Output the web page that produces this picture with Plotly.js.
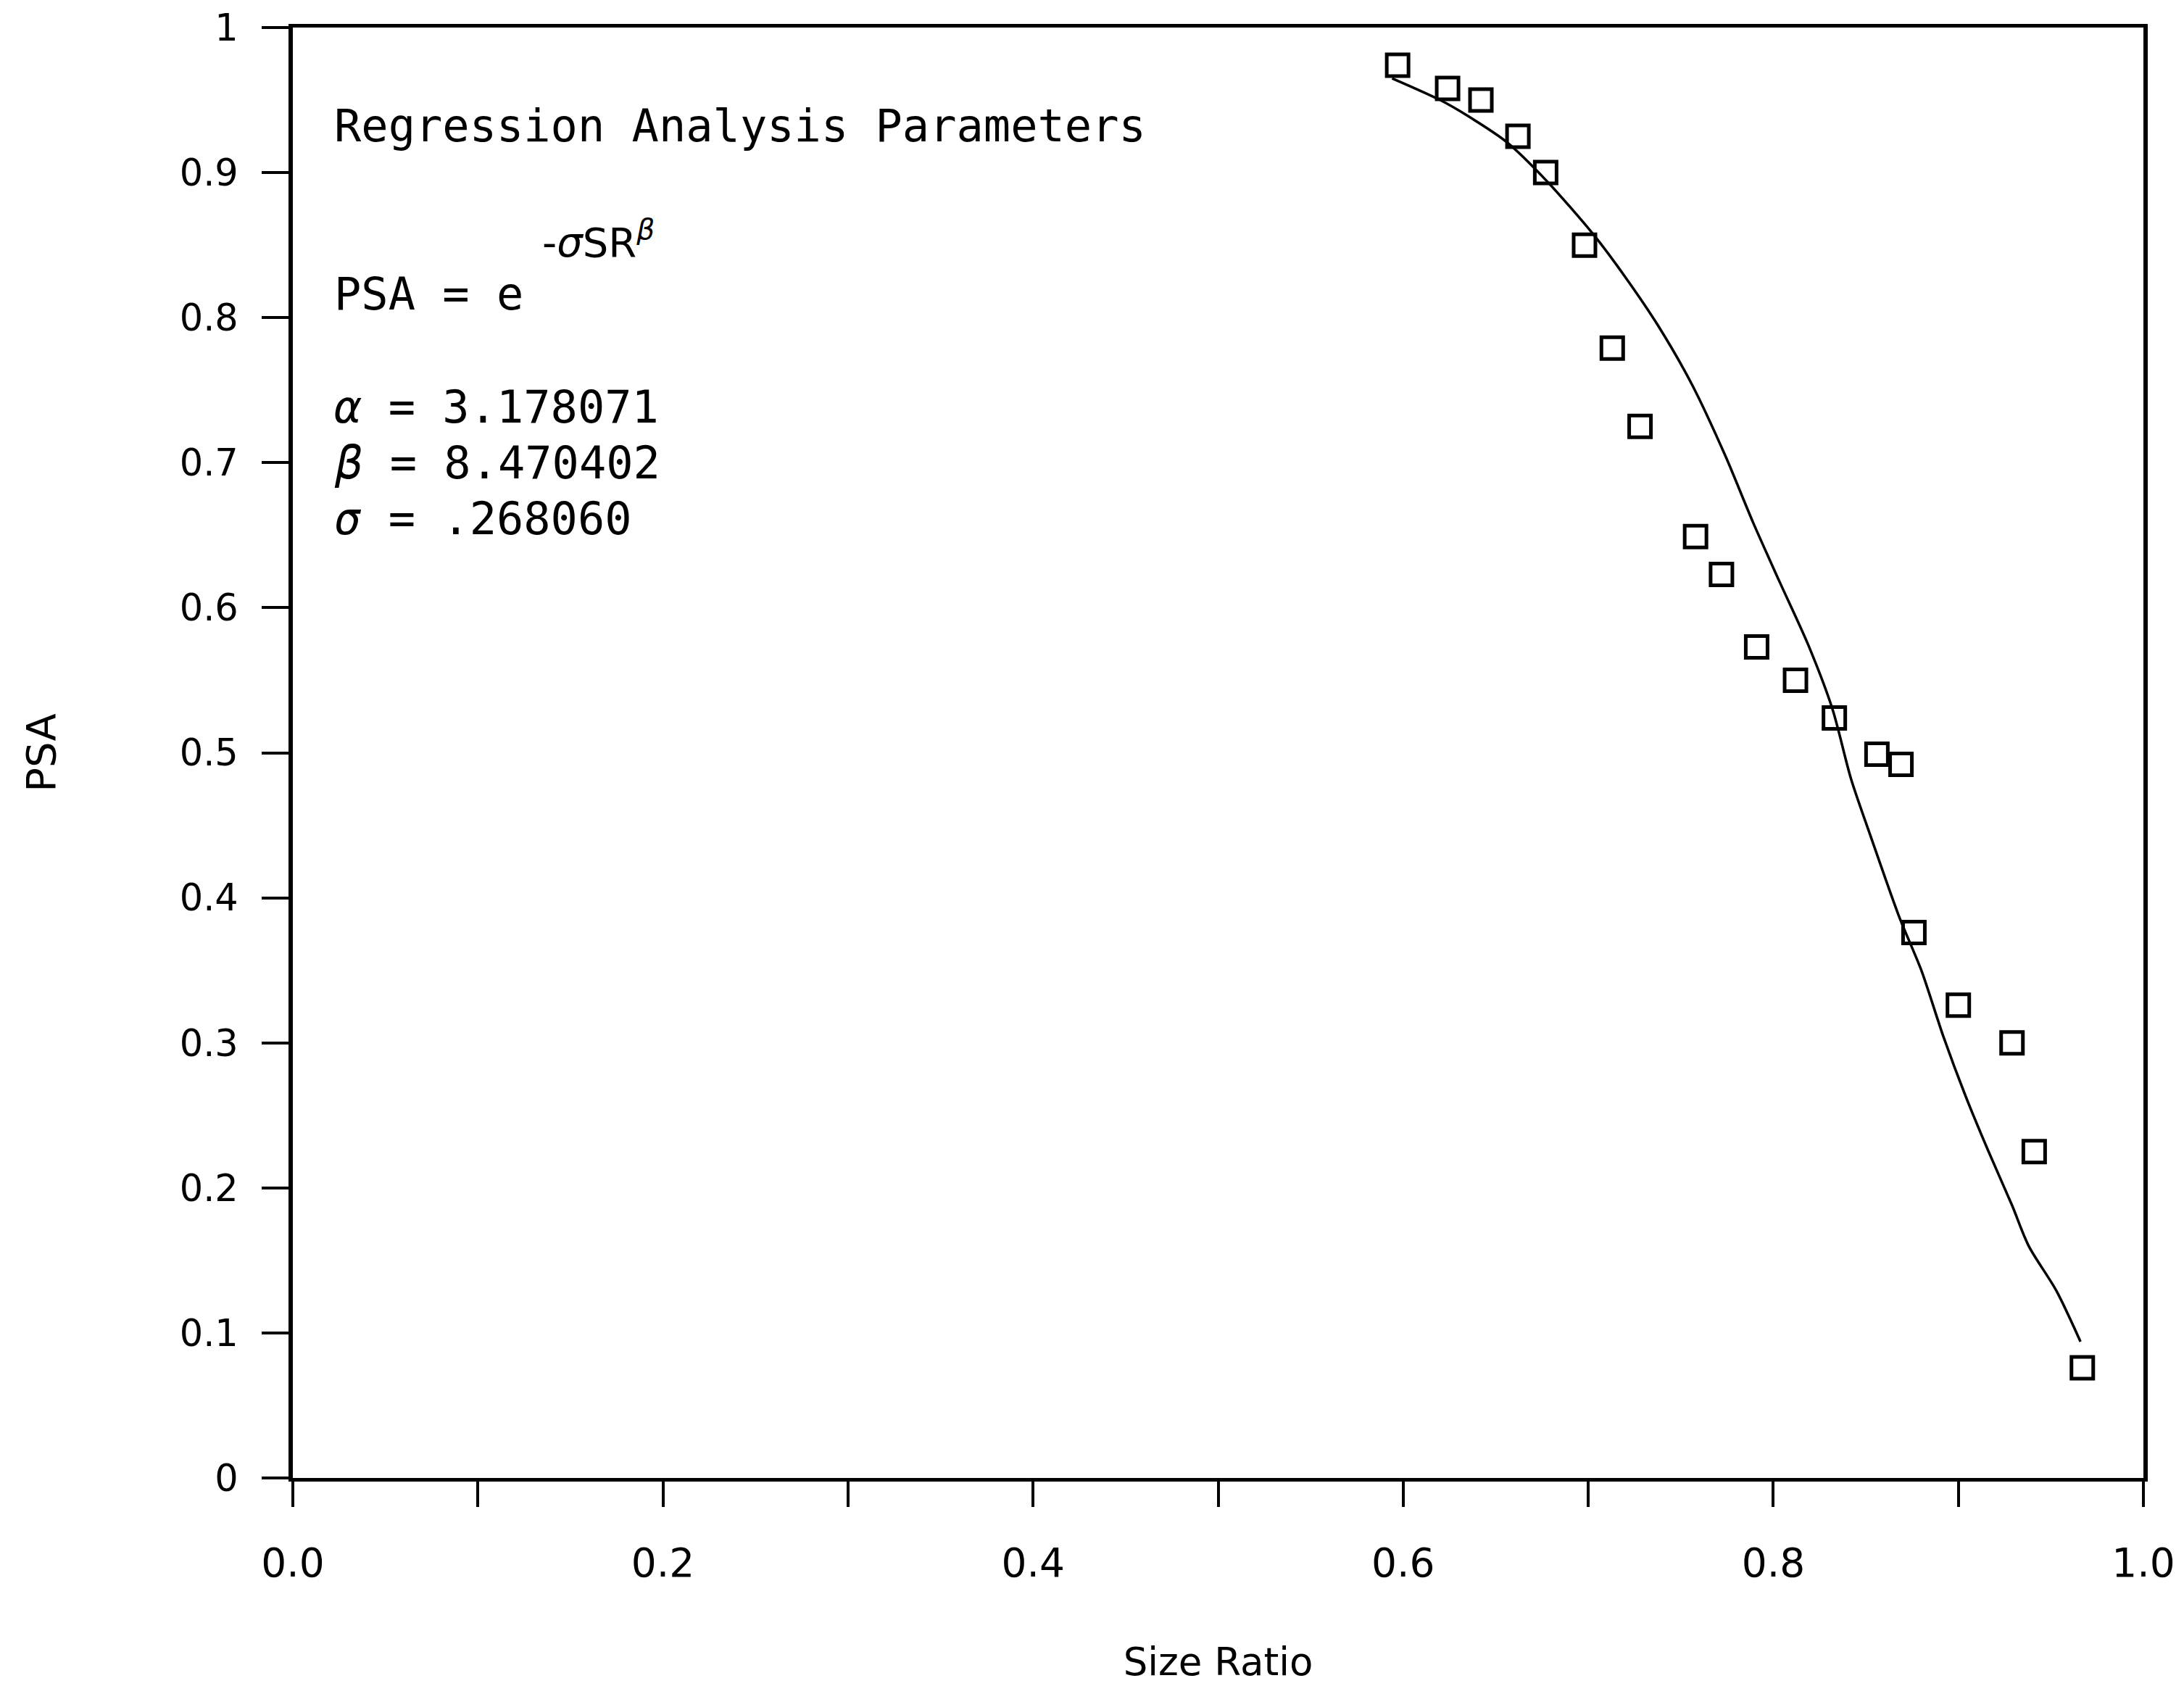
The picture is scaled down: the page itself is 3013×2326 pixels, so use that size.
<!DOCTYPE html>
<html>
<head>
<meta charset="utf-8">
<script src="https://cdn.plot.ly/plotly-3.0.1.min.js"></script>
<style>html,body{margin:0;padding:0;background:#fff;}#chart{width:3013px;height:2326px;}</style>
</head>
<body>
<div id="chart"></div>
<script>
// Observed data (open squares)
const sizeRatio = [0.597, 0.624, 0.642, 0.662, 0.677, 0.698, 0.713, 0.728, 0.758, 0.772,
                   0.791, 0.812, 0.833, 0.856, 0.869, 0.876, 0.900, 0.929, 0.941, 0.967];
const psa = [0.974, 0.958, 0.950, 0.925, 0.900, 0.850, 0.779, 0.725, 0.649, 0.623,
             0.573, 0.550, 0.524, 0.499, 0.492, 0.376, 0.326, 0.300, 0.225, 0.076];

// Fitted regression curve
const fitX = [0.594, 0.620, 0.635, 0.656, 0.677, 0.703, 0.720, 0.738, 0.756, 0.774, 0.789,
              0.803, 0.819, 0.832, 0.842, 0.853, 0.868, 0.880, 0.892, 0.904, 0.916, 0.929,
              0.938, 0.953, 0.966];
const fitY = [0.965, 0.950, 0.939, 0.921, 0.895, 0.857, 0.828, 0.794, 0.754, 0.705, 0.659,
              0.619, 0.574, 0.530, 0.482, 0.441, 0.387, 0.350, 0.304, 0.263, 0.226, 0.188,
              0.160, 0.129, 0.094];

// Axis ticks
const xTickVals = [0, 0.2, 0.4, 0.6, 0.8, 1.0];
const xTickText = ['0.0', '0.2', '0.4', '0.6', '0.8', '1.0'];
const xMinorStep = 0.1;
const yTickVals = [0, 0.1, 0.2, 0.3, 0.4, 0.5, 0.6, 0.7, 0.8, 0.9, 1.0];
const yTickText = ['0', '0.1', '0.2', '0.3', '0.4', '0.5', '0.6', '0.7', '0.8', '0.9', '1'];

// Regression parameters
const paramNames = ['α', 'β', 'σ'];
const paramValues = ['3.178071', '8.470402', '.268060'];

const monoFont = {family: 'DejaVu Sans Mono', size: 62, color: '#000'};
const paramY = [0.7386, 0.6997, 0.6612];

const annotations = [
  {xref: 'paper', yref: 'paper', x: 0.0215, y: 0.9325, xanchor: 'left', yanchor: 'middle',
   showarrow: false, text: 'Regression Analysis Parameters', font: monoFont},
  {xref: 'paper', yref: 'paper', x: 0.134, y: 0.8536, xanchor: 'left', yanchor: 'middle',
   showarrow: false, text: '-<i>σ</i>SR<sup><i>β</i></sup>',
   font: {family: 'DejaVu Sans', size: 56, color: '#000'}},
  {xref: 'paper', yref: 'paper', x: 0.0215, y: 0.8161, xanchor: 'left', yanchor: 'middle',
   showarrow: false, text: 'PSA = e', font: monoFont}
];
paramNames.forEach((n, i) => {
  annotations.push({xref: 'paper', yref: 'paper', x: 0.0215, y: paramY[i], xanchor: 'left', yanchor: 'middle',
    showarrow: false, text: '<i>' + n + '</i> = ' + paramValues[i], font: monoFont});
});

const traces = [
  {x: fitX, y: fitY, type: 'scatter', mode: 'lines',
   line: {color: '#000', width: 3.5, shape: 'spline', smoothing: 0.8}, hoverinfo: 'skip'},
  {x: sizeRatio, y: psa, type: 'scatter', mode: 'markers',
   marker: {symbol: 'square-open', size: 30, color: '#000', line: {width: 5, color: '#000'}}}
];

const layout = {
  width: 3013, height: 2326,
  margin: {l: 404, r: 56, t: 38, b: 287},
  paper_bgcolor: '#fff', plot_bgcolor: '#fff',
  showlegend: false,
  font: {family: 'DejaVu Sans', color: '#000'},
  xaxis: {
    range: [0, 1], tickmode: 'array', tickvals: xTickVals, ticktext: xTickText,
    ticks: 'outside', ticklen: 35, tickwidth: 4, tickcolor: '#000',
    minor: {tickmode: 'linear', tick0: 0, dtick: xMinorStep, ticks: 'outside', ticklen: 35,
            tickwidth: 4, tickcolor: '#000', showgrid: false},
    showline: true, linewidth: 5, linecolor: '#000', mirror: true,
    showgrid: false, zeroline: false,
    tickfont: {family: 'DejaVu Sans', size: 55, color: '#000'},
    ticklabelstandoff: 30,
    title: {text: 'Size Ratio', font: {family: 'DejaVu Sans', size: 53, color: '#000'}, standoff: 88}
  },
  yaxis: {
    range: [0, 1], tickmode: 'array', tickvals: yTickVals, ticktext: yTickText,
    ticks: 'outside', ticklen: 37, tickwidth: 4, tickcolor: '#000',
    showline: true, linewidth: 6, linecolor: '#000', mirror: true,
    showgrid: false, zeroline: false,
    tickfont: {family: 'DejaVu Sans', size: 51, color: '#000'},
    ticklabelstandoff: 22,
    title: {text: 'PSA', font: {family: 'DejaVu Sans', size: 56, color: '#000'}, standoff: 155}
  },
  annotations: annotations
};

Plotly.newPlot('chart', traces, layout, {staticPlot: true});
</script>
</body>
</html>
